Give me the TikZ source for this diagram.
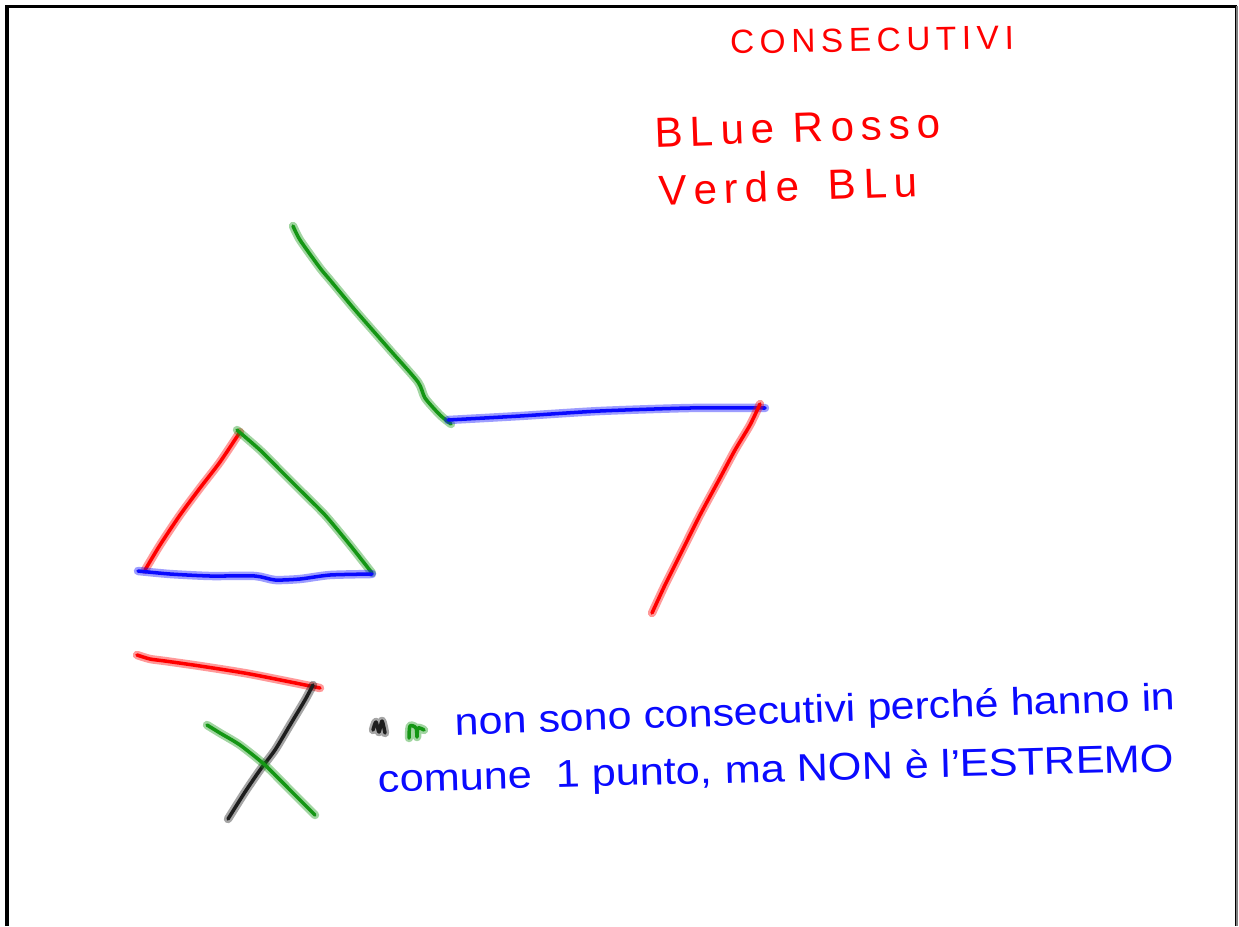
\documentclass[tikz,border=0pt]{standalone}
\usepackage{fontspec}
\setmainfont{Liberation Sans}
\definecolor{pr}{RGB}{255,0,0}
\definecolor{pb}{RGB}{10,10,255}
\definecolor{pg}{RGB}{20,150,20}
\definecolor{pk}{RGB}{30,30,30}
\tikzset{
  halo/.style={line width=4.8pt,opacity=0.4,line cap=round,line join=round},
  core/.style={line width=2pt,line cap=round,line join=round},
  pen/.style={preaction={draw=#1,halo},draw=#1,core},
  hand/.style={font=\fontsize{19}{22}\selectfont,inner sep=0pt},
}
\begin{document}
\begin{tikzpicture}[x=0.02cm,y=-0.02cm]
\useasboundingbox (0,0) rectangle (1239,926);
\fill[white] (0,0) rectangle (1239,926);
% frame
\draw[line width=1.8pt,black] (7,926) -- (7,6.5) -- (1237,6.5);
\draw[line width=1.6pt,gray] (1236.5,6.5) -- (1236.5,926);
\draw[line width=0.5pt,black] (1235,6.5) -- (1235,926);
% top figure
\draw[pen=pg] plot[smooth,tension=0.4] coordinates {(293,226) (300,240) (320,268) (330,280) (355,310) (390,350) (418,382) (425,398) (440,415) (451,424)};
\draw[pen=pb] plot[smooth,tension=0.4] coordinates {(448,420) (520,416) (600,411) (690,408) (765,408)};
\draw[pen=pr] plot[smooth,tension=0.4] coordinates {(760,404) (750,425) (735,450) (720,478) (700,515) (680,555) (665,585) (652,613)};
% triangle
\draw[pen=pr] plot[smooth,tension=0.4] coordinates {(145,570) (160,545) (180,515) (200,488) (220,462) (240,432)};
\draw[pen=pg] plot[smooth,tension=0.4] coordinates {(237,430) (260,450) (280,470) (300,490) (325,515) (350,545) (372,573)};
\draw[pen=pb] plot[smooth,tension=0.4] coordinates {(138,571) (170,574) (210,576) (255,576) (275,580) (300,579) (330,575) (372,574)};
% crossing figure
\draw[pen=pr] plot[smooth,tension=0.4] coordinates {(137,655) (150,659) (165,661) (200,666) (250,674) (320,688)};
\draw[pen=pk] plot[smooth,tension=0.4] coordinates {(313,685) (305,700) (290,725) (275,750) (260,770) (245,792) (228,819)};
\draw[pen=pg] plot[smooth,tension=0.4] coordinates {(207,725) (220,733) (240,745) (265,765) (290,790) (315,815)};
% small marks
\draw[pen=pk] plot[smooth,tension=0.5] coordinates {(373,730) (376,722) (379,732) (382,721) (385,733)};
\draw[pen=pg] plot[smooth,tension=0.5] coordinates {(409,738) (410,726) (416,728) (417,737) (418,728) (424,730)};
% texts
\node[hand,text=pr,rotate=1] (t1) at (872,40) {C\,O\,N\,S\,E\,C\,U\,T\,I\,V\,I};
\node[hand,text=pr,rotate=2,font=\fontsize{24}{26}\selectfont] (t2) at (798,128) {B\,L\,u\,e\, R\,o\,s\,s\,o};
\node[hand,text=pr,rotate=2,font=\fontsize{24}{26}\selectfont] (t3) at (788,186) {V\,e\,r\,d\,e\hspace{0.7em}B\,L\,u};
\node[hand,text=pb,rotate=2,xscale=1.11,font=\fontsize{22}{24}\selectfont,anchor=west] (t4) at (455,725) {non sono consecutivi perché hanno in};
\node[hand,text=pb,rotate=1.5,xscale=1.12,font=\fontsize{22}{24}\selectfont,anchor=west] (t5) at (378,782) {comune \ 1 punto, ma NON è l'ESTREMO};
\end{tikzpicture}
\end{document}
